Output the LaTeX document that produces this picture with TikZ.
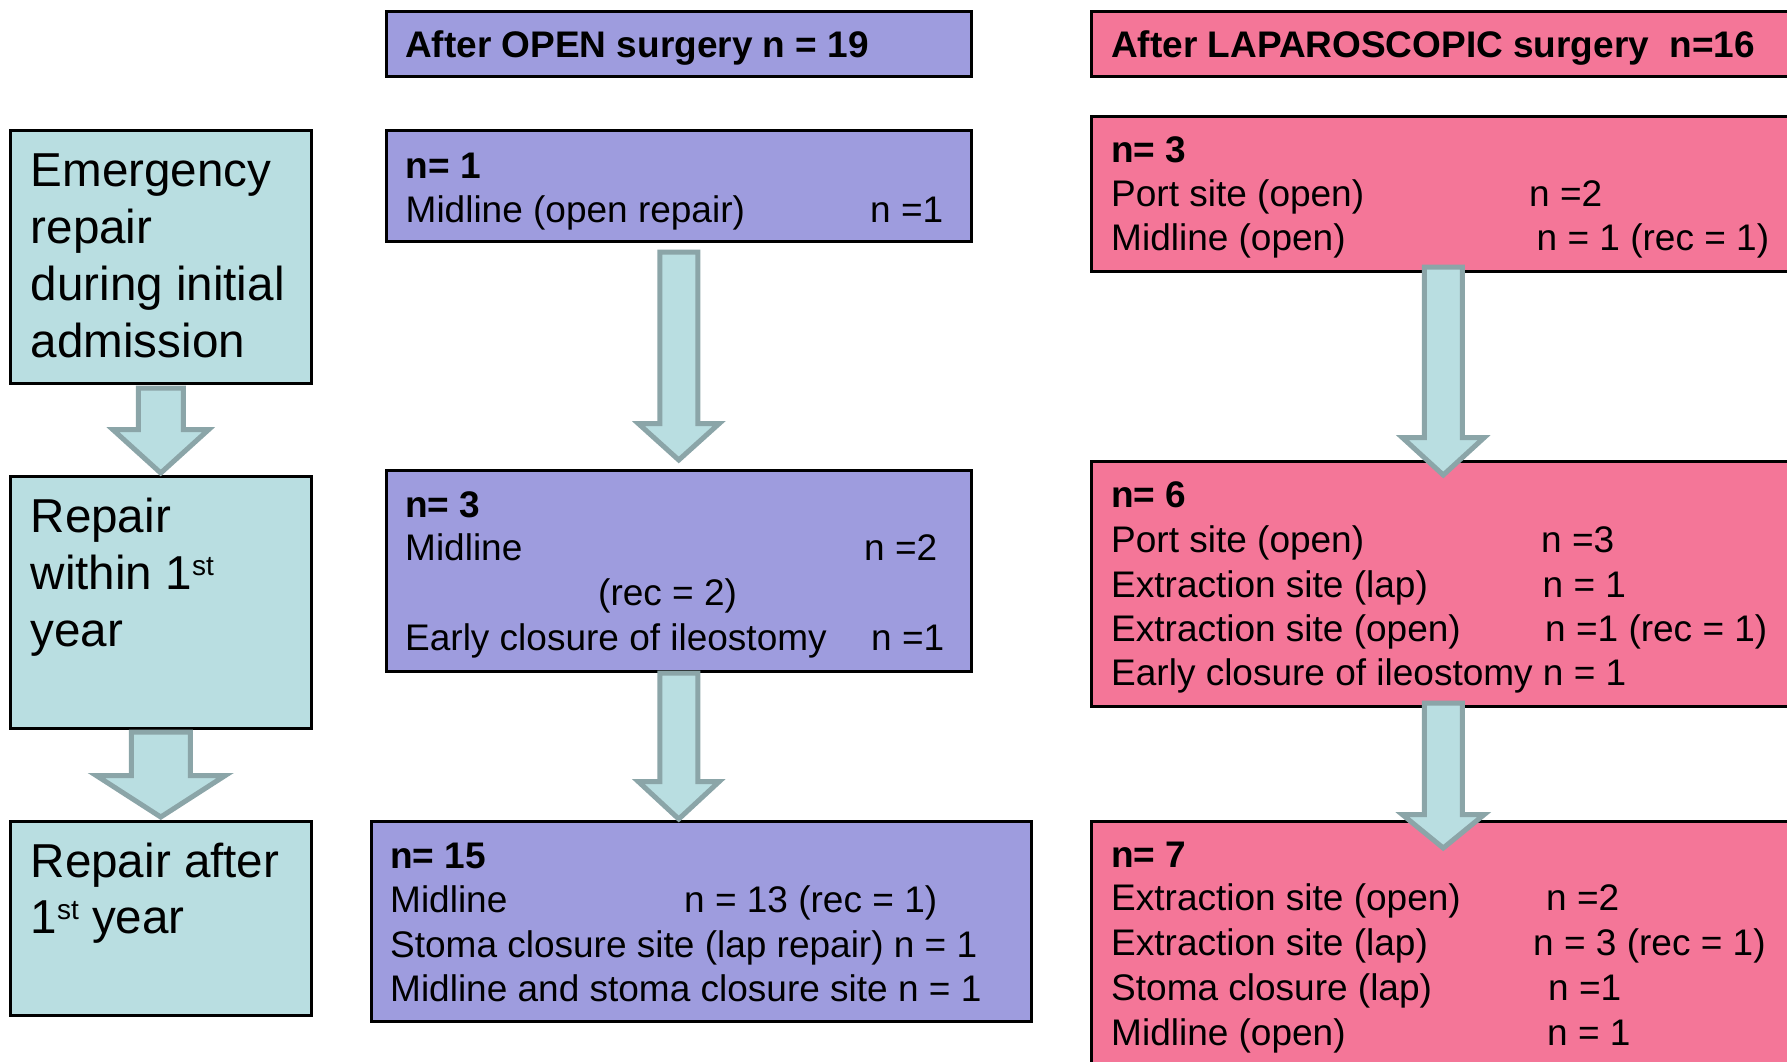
\documentclass[tikz,border=0pt]{standalone}
\usepackage{fontspec}
\setmainfont{Liberation Sans}
\usetikzlibrary{calc}
\definecolor{purp}{RGB}{158,156,222}
\definecolor{lappink}{RGB}{244,118,152}
\definecolor{lblue}{RGB}{185,222,225}
\definecolor{aedge}{RGB}{139,165,168}
\tikzset{
  box/.style={draw=black, line width=2.5pt, anchor=north west, inner sep=0pt, rectangle},
  boxsize/.style 2 args={minimum width=#1pt, minimum height=#2pt},
  openbox/.style={box, fill=purp},
  lapbox/.style={box, fill=lappink},
  stagebox/.style={box, fill=lblue},
  body/.style={anchor=base west, inner sep=0pt, yshift=-2pt, font=\fontsize{37}{44}\selectfont},
  stage/.style={anchor=base west, inner sep=0pt, font=\fontsize{47.6}{57}\selectfont},
  barrow/.style={fill=lblue, draw=aedge, line width=5pt, line join=miter},
}
\newcommand\supst{\raisebox{14pt}{\fontsize{28}{28}\selectfont st}}
% #1 start, #2 tip, #3 half shaft width, #4 half head width, #5 head length
\newcommand\blockarrow[5]{\draw[barrow] let \p1=#1, \p2=#2 in
  (\x1-#3pt,\y1) -- (\x1+#3pt,\y1) -- (\x1+#3pt,\y2+#5pt) -- (\x1+#4pt,\y2+#5pt)
  -- (\x1,\y2) -- (\x1-#4pt,\y2+#5pt) -- (\x1-#3pt,\y2+#5pt) -- cycle;}
\begin{document}
\begin{tikzpicture}[x=1pt, y=-1pt]
\useasboundingbox (0,0) rectangle (1787,1061);
% headers
\node[openbox, boxsize={585}{65}] (hopen) at (385,10) {};
\node[lapbox, boxsize={704}{65}] (hlap) at (1090,10) {};
% stage boxes
\node[stagebox, boxsize={301}{253}] (emerg) at (9,129) {};
\node[stagebox, boxsize={301}{252}] (within) at (9,475) {};
\node[stagebox, boxsize={301}{194}] (after) at (9,820) {};
% open boxes
\node[openbox, boxsize={585}{111}] (open1) at (385,129) {};
\node[openbox, boxsize={585}{201}] (open3) at (385,469) {};
\node[openbox, boxsize={660}{200}] (open15) at (370,820) {};
% lap boxes
\node[lapbox, boxsize={704}{155}] (lap3) at (1090,115) {};
\node[lapbox, boxsize={704}{245}] (lap6) at (1090,460) {};
\node[lapbox, boxsize={704}{260}] (lap7) at (1090,820) {};
% header texts
\node[body] (thopen) at (405,55) {\bfseries After OPEN surgery n = 19};
\node[body] (thlap) at (1111,55) {\bfseries After LAPAROSCOPIC surgery\ \ n=16};
% stage texts
\node[stage] (te1) at (30.5,186) {Emergency};
\node[stage] (te2) at (30.5,243) {repair};
\node[stage] (te3) at (30.5,300) {during initial};
\node[stage] (te4) at (30.5,357) {admission};
\node[stage] (tw1) at (30.5,532) {Repair};
\node[stage] (tw2) at (30.5,589) {within 1\supst};
\node[stage] (tw3) at (30.5,646) {year};
\node[stage] (ta1) at (30.5,877.5) {Repair after};
\node[stage] (ta2) at (30.5,933.5) {1\supst{} year};
% open n=1
\node[body] (o1a) at (405.5,176) {\bfseries n= 1};
\node[body] (o1b) at (405.5,220) {Midline (open repair)};
\node[body] (o1c) at (870,220) {n =1};
% open n=3
\node[body] (o3a) at (405,515) {\bfseries n= 3};
\node[body] (o3b) at (405,558) {Midline};
\node[body] (o3c) at (864,558) {n =2};
\node[body] (o3d) at (598,603) {(rec = 2)};
\node[body] (o3e) at (405,648) {Early closure of ileostomy};
\node[body] (o3f) at (871,648) {n =1};
% open n=15
\node[body] (o15a) at (390,866) {\bfseries n= 15};
\node[body] (o15b) at (390,910) {Midline};
\node[body] (o15c) at (684,910) {n = 13 (rec = 1)};
\node[body] (o15d) at (390,955) {Stoma closure site (lap repair) n = 1};
\node[body] (o15e) at (390,999) {Midline and stoma closure site n = 1};
% lap n=3
\node[body] (l3a) at (1111,160) {\bfseries n= 3};
\node[body] (l3b) at (1111,204) {Port site (open)};
\node[body] (l3c) at (1529,204) {n =2};
\node[body] (l3d) at (1111,248) {Midline (open)};
\node[body] (l3e) at (1536.5,248) {n = 1 (rec = 1)};
% lap n=6
\node[body] (l6a) at (1111,505) {\bfseries n= 6};
\node[body] (l6b) at (1111,550) {Port site (open)};
\node[body] (l6c) at (1541,550) {n =3};
\node[body] (l6d) at (1111,595) {Extraction site (lap)};
\node[body] (l6e) at (1542.5,595) {n = 1};
\node[body] (l6f) at (1111,639) {Extraction site (open)};
\node[body] (l6g) at (1545,639) {n =1 (rec = 1)};
\node[body] (l6h) at (1111,683) {Early closure of ileostomy n = 1};
% lap n=7
\node[body] (l7a) at (1111,865) {\bfseries n= 7};
\node[body] (l7b) at (1111,908) {Extraction site (open)};
\node[body] (l7c) at (1546,908) {n =2};
\node[body] (l7d) at (1111,953) {Extraction site (lap)};
\node[body] (l7e) at (1533,953) {n = 3 (rec = 1)};
\node[body] (l7f) at (1111,998) {Stoma closure (lap)};
\node[body] (l7g) at (1548,998) {n =1};
\node[body] (l7h) at (1111,1043) {Midline (open)};
\node[body] (l7i) at (1547,1043) {n = 1};
% block arrows
\blockarrow{($(emerg.south)+(0,3.5)$)}{($(within.north)+(0,-2)$)}{22.5}{48}{43.5}
\blockarrow{($(within.south)+(0,2.5)$)}{($(after.north)+(0,-3)$)}{29.5}{64.5}{41.5}
\blockarrow{($(open1.south)+(0,9.5)$)}{($(open3.north)+(0,-9)$)}{19}{40.5}{36.5}
\blockarrow{($(open3.south)+(0,0.5)$)}{($(open15.north)+(0,-1)$)}{19}{40.5}{37.5}
\blockarrow{($(lap3.south)+(0,-5.5)$)}{($(lap6.north)+(0,15)$)}{19}{41}{37.5}
\blockarrow{($(lap6.south)+(0,-4.5)$)}{($(lap7.north)+(0,28)$)}{19}{41}{33.5}
\end{tikzpicture}
\end{document}
